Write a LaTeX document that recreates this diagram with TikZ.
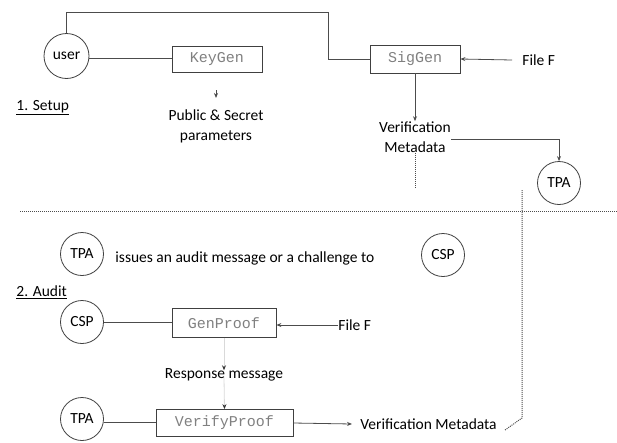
\documentclass[tikz,border=0pt]{standalone}
\usepackage{fontspec}
\setmainfont{Carlito}
\newfontfamily\codefont{Liberation Mono}
\usetikzlibrary{arrows.meta}
\begin{document}
\begin{tikzpicture}[x=1pt,y=-1pt,
  line width=0.8pt,
  ink/.style={draw=black!75},
  party/.style={circle,ink,minimum size=43pt,inner sep=0pt,font=\fontsize{15.5}{18}\selectfont},
  algo/.style={rectangle,ink,inner sep=0pt,font=\codefont\fontsize{15}{17}\selectfont\color{black!50}},
  txt/.style={inner sep=0pt,font=\fontsize{15.5}{20}\selectfont,align=center},
  link/.style={draw=black!70},
  arr/.style={link,-{Stealth[length=5pt,width=4pt]}},
  faint/.style={draw=black!15,-{Stealth[length=5pt,width=4pt,color=black!80]}},
  dots/.style={draw=black!70,densely dotted,line width=1pt}
]
\useasboundingbox (0,0) rectangle (617,442);

% ---- Setup phase ----
\node[party,minimum size=45pt] (user) at (66.5,56) {user};
\node[algo,minimum width=90pt,minimum height=26pt] (keygen) at (217,59) {KeyGen};
\node[algo,minimum width=90pt,minimum height=28pt] (siggen) at (415,59) {SigGen};
\node[txt,anchor=west] (fileA) at (522,60) {File F};
\node[txt] (pubsec) at (216,126) {Public \& Secret\\parameters};
\node[txt] (vmeta) at (415,137) {Verification\\Metadata};
\node[party] (tpaA) at (559,183) {TPA};
\node[txt,anchor=west] (setup) at (16,108) {\underline{1. Setup}};

\coordinate (corner) at (328,12);
\draw[link] (user.north) |- (corner) |- (siggen.west);
\draw[link] (user.-7) -- (user.-7 -| keygen.west);
\coordinate (kgA) at (216,90);
\coordinate (kgB) at (216,98);
\draw[arr] (kgA) -- (kgB);
\draw[arr] ([xshift=-10pt]fileA.west) -- (siggen.east);
\draw[arr] (siggen.south) -- (vmeta.north);
\draw[arr] ([yshift=-2pt]vmeta.east) -| (tpaA.north);
\coordinate (vmEnd) at (415,188);
\draw[dots] (vmeta.south) -- (vmEnd);

% phase separator
\coordinate (sepL) at (20,211);
\coordinate (sepR) at (617,211);
\draw[dots] (sepL) -- (sepR);

% ---- Audit phase ----
\node[party] (tpaB) at (82,254) {TPA};
\node[txt,anchor=west] (issue) at (115,258) {issues an audit message or a challenge to};
\node[party] (cspA) at (443,255) {CSP};
\node[txt,anchor=west] (audit) at (16,292) {\underline{2. Audit}};
\node[party] (cspB) at (82,322) {CSP};
\node[algo,minimum width=104pt,minimum height=29pt] (genproof) at (224,323) {GenProof};
\node[txt,anchor=west] (fileB) at (338,325) {File F};
\node[txt] (resp) at (224,375) {Response message};
\node[party] (tpaC) at (82,419) {TPA};
\node[algo,minimum width=137pt,minimum height=27pt] (verify) at (224.5,423) {VerifyProof};
\node[txt,anchor=west] (vmetaB) at (360,424) {Verification Metadata};

\draw[link] (cspB.east) -- (cspB.east -| genproof.west);
\draw[arr] (fileB.west) -- (fileB.west -| genproof.east);
\draw[faint] (genproof.south) -- ([yshift=-2pt]resp.north);
\draw[faint] ([yshift=4pt]resp.south) -- (verify.north);
\draw[link] (tpaC.-10) -- (tpaC.-10 -| verify.west);
\draw[arr] (verify.east) -- ([xshift=-8pt]vmetaB.west);

\coordinate (dotLow) at (522,418);
\coordinate (dotTop) at (522,190);
\draw[dots] ([xshift=8pt,yshift=-6pt]vmetaB.east) -- (dotLow) -- (dotTop);
\end{tikzpicture}
\end{document}
